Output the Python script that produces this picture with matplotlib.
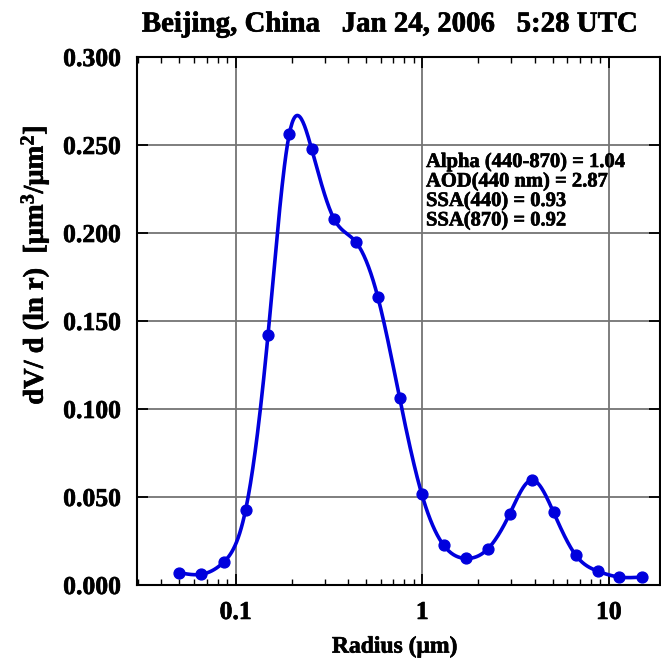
import numpy as np
import matplotlib
matplotlib.use("Agg")
import matplotlib.pyplot as plt
import matplotlib.patheffects as pe

# AERONET inversion size bins and retrieved volume size distribution
radius = [0.050, 0.0656, 0.0861, 0.113, 0.149, 0.194, 0.255, 0.336, 0.440, 0.577, 0.757,
          0.993, 1.30, 1.71, 2.24, 2.94, 3.86, 5.06, 6.64, 8.71, 11.4, 15.0]
dvdlnr = [0.0070, 0.0061, 0.0129, 0.0425, 0.1418, 0.2564, 0.2480, 0.2082, 0.1950, 0.1639, 0.1061,
          0.0518, 0.0227, 0.0151, 0.0204, 0.0403, 0.0596, 0.0412, 0.0170, 0.0079, 0.0045, 0.0045]

title = "Beijing, China   Jan 24, 2006   5:28 UTC"
info_lines = ["Alpha (440-870) = 1.04", "AOD(440 nm) = 2.87", "SSA(440) = 0.93", "SSA(870) = 0.92"]
yticks = [0.0, 0.05, 0.10, 0.15, 0.20, 0.25, 0.30]
xticks = [0.1, 1, 10]
xticklabels = ["0.1", "1", "10"]


def natural_spline(x, y, xs):
    # natural cubic spline, used only to draw a smooth line through the points
    x = np.asarray(x, float)
    y = np.asarray(y, float)
    n = len(x)
    h = np.diff(x)
    A = np.zeros((n, n))
    b = np.zeros(n)
    A[0, 0] = A[-1, -1] = 1
    for i in range(1, n - 1):
        A[i, i - 1] = h[i - 1]
        A[i, i] = 2 * (h[i - 1] + h[i])
        A[i, i + 1] = h[i]
        b[i] = 6 * ((y[i + 1] - y[i]) / h[i] - (y[i] - y[i - 1]) / h[i - 1])
    m = np.linalg.solve(A, b)
    idx = np.clip(np.searchsorted(x, xs) - 1, 0, n - 2)
    t0 = x[idx]
    t1 = x[idx + 1]
    hh = t1 - t0
    a = (t1 - xs) / hh
    c = (xs - t0) / hh
    return (a * y[idx] + c * y[idx + 1]
            + ((a ** 3 - a) * m[idx] + (c ** 3 - c) * m[idx + 1]) * hh ** 2 / 6)


plt.rcParams['font.family'] = ['Liberation Serif', 'DejaVu Serif']
plt.rcParams['font.weight'] = 'bold'
plt.rcParams['mathtext.fontset'] = 'custom'
plt.rcParams['mathtext.rm'] = 'Liberation Serif:bold'
plt.rcParams['mathtext.it'] = 'Liberation Serif:bold'
plt.rcParams['mathtext.bf'] = 'Liberation Serif:bold'

heavy = [pe.withStroke(linewidth=0.45, foreground='black')]

fig = plt.figure(figsize=(6.61, 6.62), dpi=100)
ax = fig.add_axes([137 / 661, 1 - 585 / 662, (660 - 137) / 661, (585 - 57) / 662])

lx = np.log10(radius)
xs = np.linspace(lx[0], lx[-1], 600)
ax.plot(10 ** xs, natural_spline(lx, dvdlnr, xs), color='#0000dd', lw=2.6, zorder=3)
ax.plot(radius, dvdlnr, 'o', color='#0000dd', ms=7.8, zorder=4)

ax.set_xscale('log')
ax.set_xlim(0.0296, 18.8)
ax.set_ylim(0, 0.3)
ax.set_xticks(xticks)
ax.set_xticklabels(xticklabels)
ax.set_yticks(yticks)
ax.set_yticklabels(["%.3f" % v for v in yticks])
ax.grid(True, which='major', color='#747474', lw=1.3, zorder=1)

ax.tick_params(which='both', direction='in', top=True, right=True, labelsize=18.5, pad=11.5)
ax.tick_params(which='major', length=8, width=1.3, color='black')
ax.tick_params(which='minor', length=4.5, width=1.0)
ax.tick_params(axis='y', which='minor', left=False, right=False)
for s in ax.spines.values():
    s.set_linewidth(1.5)
for lab in ax.get_xticklabels() + ax.get_yticklabels():
    lab.set_path_effects(heavy)

ax.set_xlabel("Radius (μm)", fontsize=17, fontweight='bold', path_effects=heavy)
ax.xaxis.set_label_coords((395 - 137) / 523, (585 - 647) / 528)
ax.xaxis.label.set_va('center')
ax.set_ylabel(r"dV/ d (ln r)  [μm$^3$/μm$^2$]", fontsize=20.5, fontweight='bold', path_effects=heavy)
ax.yaxis.set_label_coords((35 - 137) / 523, (585 - 265) / 528)
ax.yaxis.label.set_va('center')

fig.text(390 / 661, 1 - 24 / 662, title, fontsize=20.8, fontweight='bold',
         ha='center', va='center', path_effects=heavy)

# retrieval summary next to the fine-mode peak
for i, line in enumerate(info_lines):
    ax.text((426 - 137) / 523, (585 - 162) / 528 - i * 19.5 / 528, line,
            transform=ax.transAxes, fontsize=14.8, fontweight='bold',
            va='center', ha='left', path_effects=heavy)

fig.savefig("out.png", dpi=100)
